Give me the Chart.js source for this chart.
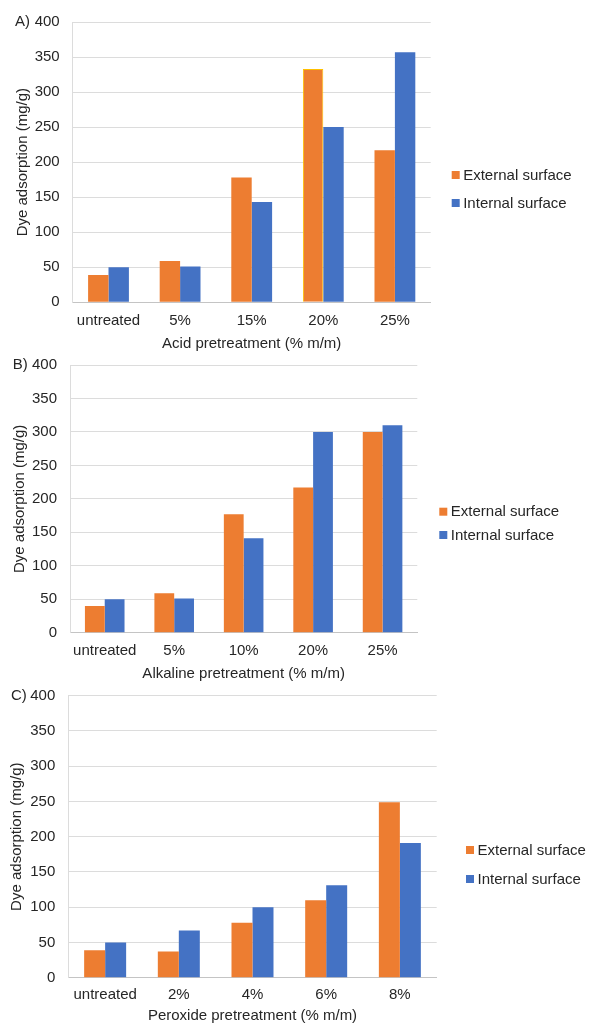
<!DOCTYPE html>
<html>
<head>
<meta charset="utf-8">
<title>Dye adsorption by pretreatment</title>
<script src="https://cdn.jsdelivr.net/npm/chart.js@4.4.1/dist/chart.umd.min.js"></script>
<style>
  html, body { margin: 0; padding: 0; background: #ffffff; overflow: hidden; }
  body { width: 589px; height: 1025px; position: relative; }
  .panel { position: absolute; left: 0; width: 589px; }
  .panel canvas { display: block; }
</style>
</head>
<body>
<div class="panel" id="wrapA" style="top:0px;height:356px"><canvas id="chartA"></canvas></div>
<div class="panel" id="wrapB" style="top:340px;height:345px"><canvas id="chartB"></canvas></div>
<div class="panel" id="wrapC" style="top:670px;height:355px"><canvas id="chartC"></canvas></div>
<script>
// Series labels
const seriesNames = ['External surface', 'Internal surface'];

// Panel A – acid pretreatment
const acidCategories = ['untreated', '5%', '15%', '20%', '25%'];
const acidExternal = [39, 59, 178, 333, 217];
const acidInternal = [50, 51, 143, 250, 357];

// Panel B – alkaline pretreatment
const alkalineCategories = ['untreated', '5%', '10%', '20%', '25%'];
const alkalineExternal = [40, 59, 177, 217, 300];
const alkalineInternal = [50, 51, 141, 300, 310];

// Panel C – peroxide pretreatment
const peroxideCategories = ['untreated', '2%', '4%', '6%', '8%'];
const peroxideExternal = [39, 37, 78, 110, 249];
const peroxideInternal = [50, 67, 100, 131, 191];

// Shared y axis
const yMin = 0, yMax = 400, yStep = 50;

const ORANGE = '#ED7D31';
const BLUE = '#4472C4';
const TEXT = '#262626';
const FONT = "'Liberation Sans', Arial, sans-serif";

// Legend drawn at the right of each panel
const sideLegend = {
  id: 'sideLegend',
  afterDraw(chart, args, opts) {
    const ctx = chart.ctx;
    ctx.save();
    ctx.font = '15px ' + FONT;
    ctx.textBaseline = 'middle';
    ctx.textAlign = 'left';
    chart.data.datasets.forEach((ds, i) => {
      const y = opts.y + i * opts.gap;
      ctx.fillStyle = Array.isArray(ds.backgroundColor) ? ds.backgroundColor[0] : ds.backgroundColor;
      ctx.fillRect(opts.x, y - 4, 8, 8);
      ctx.fillStyle = TEXT;
      ctx.fillText(ds.label, opts.x + 11.5, y + 0.5);
    });
    ctx.restore();
  }
};

// Panel letter placed in front of the top tick label
const panelLetter = {
  id: 'panelLetter',
  afterDraw(chart, args, opts) {
    const ctx = chart.ctx;
    const y = chart.scales.y.getPixelForValue(yMax);
    ctx.save();
    ctx.font = '15px ' + FONT;
    ctx.textBaseline = 'middle';
    ctx.textAlign = 'left';
    ctx.fillStyle = TEXT;
    ctx.fillText(opts.text, opts.x, y);
    ctx.restore();
  }
};

function makeChart(id, categories, external, internal, xTitle, letter, g) {
  const externalBorder = external.map((v, i) => (g.outlined === i ? '#FFC000' : ORANGE));
  const externalBorderWidth = external.map((v, i) => (g.outlined === i ? 1 : 0));
  return new Chart(document.getElementById(id), {
    type: 'bar',
    data: {
      labels: categories,
      datasets: [
        { label: seriesNames[0], data: external, backgroundColor: ORANGE,
          borderColor: externalBorder, borderWidth: externalBorderWidth,
          categoryPercentage: 0.57, barPercentage: 1.0 },
        { label: seriesNames[1], data: internal, backgroundColor: BLUE,
          borderWidth: 0, categoryPercentage: 0.57, barPercentage: 1.0 }
      ]
    },
    options: {
      responsive: true,
      maintainAspectRatio: false,
      animation: false,
      layout: { padding: { top: g.top, right: g.right, bottom: g.bottom, left: 0 } },
      plugins: {
        legend: { display: false },
        tooltip: { enabled: false },
        sideLegend: { x: g.legendX, y: g.legendY, gap: g.legendGap },
        panelLetter: { text: letter, x: g.letterX }
      },
      scales: {
        x: {
          grid: { display: false, drawTicks: false },
          border: { display: true, color: '#c4c4c4', width: 1 },
          ticks: { color: TEXT, font: { family: FONT, size: 15 }, padding: g.xTickPad, maxRotation: 0 },
          title: { display: true, text: xTitle, color: TEXT, font: { family: FONT, size: 15 },
                   padding: { top: 0, bottom: g.xTitlePad } },
          afterFit(scale) { scale.height = g.xHeight; }
        },
        y: {
          min: yMin, max: yMax,
          grid: { color: '#dcdcdc', lineWidth: 1, drawTicks: false },
          border: { display: true, color: '#dcdcdc', width: 1 },
          ticks: { stepSize: yStep, color: TEXT, font: { family: FONT, size: 15 }, padding: 13 },
          title: { display: true, text: 'Dye adsorption (mg/g)', color: TEXT, font: { family: FONT, size: 15 },
                   padding: { top: g.yTitlePad, bottom: 0 } },
          afterFit(scale) { scale.width = g.yWidth; }
        }
      }
    },
    plugins: [sideLegend, panelLetter]
  });
}

makeChart('chartA', acidCategories, acidExternal, acidInternal,
  'Acid pretreatment (% m/m)', 'A)', {
    top: 21, right: 158.3, bottom: 0, yWidth: 72.7, xHeight: 53.7,
    xTickPad: 10, xTitlePad: 3, yTitlePad: 14.3,
    legendX: 451.7, legendY: 175, legendGap: 28, letterX: 15, outlined: 3
  });

makeChart('chartB', alkalineCategories, alkalineExternal, alkalineInternal,
  'Alkaline pretreatment (% m/m)', 'B)', {
    top: 25, right: 171.7, bottom: 0, yWidth: 70, xHeight: 52.3,
    xTickPad: 9, xTitlePad: 2, yTitlePad: 11,
    legendX: 439.3, legendY: 171.7, legendGap: 23.3, letterX: 12.7, outlined: -1
  });

makeChart('chartC', peroxideCategories, peroxideExternal, peroxideInternal,
  'Peroxide pretreatment (% m/m)', 'C)', {
    top: 25.7, right: 152.3, bottom: 0, yWidth: 68.3, xHeight: 47.3,
    xTickPad: 8.3, xTitlePad: 0, yTitlePad: 7.7,
    legendX: 466, legendY: 180, legendGap: 29, letterX: 11, outlined: -1
  });
</script>
</body>
</html>
